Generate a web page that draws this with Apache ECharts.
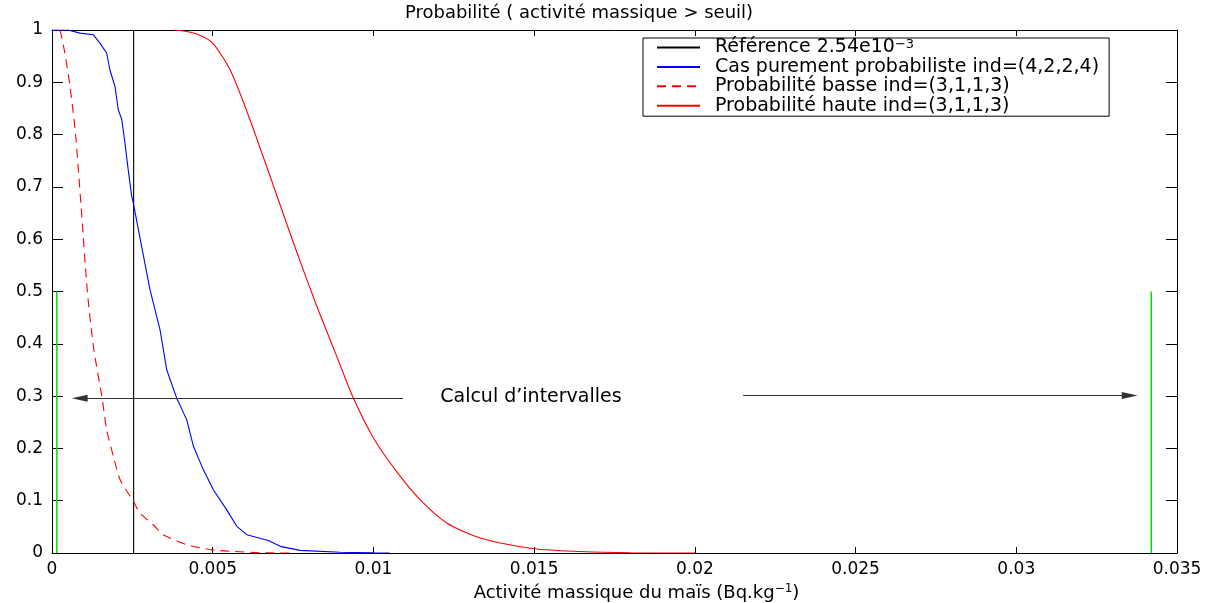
<!DOCTYPE html>
<html>
<head>
<meta charset="utf-8">
<script src="https://cdn.jsdelivr.net/npm/echarts@6/dist/echarts.min.js"></script>
<style>
html,body{margin:0;padding:0;background:#fff;}
#chart{width:1219px;height:603px;}
</style>
</head>
<body>
<div id="chart"></div>
<script>
// ---- data ----
const xTickLabels = ['0','0.005','0.01','0.015','0.02','0.025','0.03','0.035'];
const yTickLabels = ['0','0.1','0.2','0.3','0.4','0.5','0.6','0.7','0.8','0.9','1'];

const referenceX = 0.00254;
const referenceName = 'Référence 2.54e10−3';

const blueName = 'Cas purement probabiliste ind=(4,2,2,4)';
const blueX = [0, 0.0005, 0.00087, 0.00128, 0.00149, 0.0017, 0.0018, 0.00196, 0.00206, 0.00217, 0.00227, 0.00237, 0.00248, 0.00253, 0.00279, 0.00305, 0.00336, 0.00357, 0.00388, 0.00419, 0.0044, 0.00471, 0.00502, 0.00543, 0.00575, 0.00606, 0.00673, 0.0071, 0.00772, 0.00896, 0.0100, 0.0105];
const blueY = [1, 1, 0.994, 0.991, 0.975, 0.956, 0.924, 0.892, 0.848, 0.829, 0.784, 0.733, 0.682, 0.669, 0.586, 0.503, 0.427, 0.350, 0.296, 0.255, 0.204, 0.159, 0.121, 0.083, 0.051, 0.035, 0.024, 0.0127, 0.005, 0.0015, 0.0003, 0];

const lowName = 'Probabilité basse ind=(3,1,1,3)';
const lowX = [0.00025, 0.0004, 0.00056, 0.00072, 0.00082, 0.00092, 0.0011, 0.0013, 0.00155, 0.0017, 0.00191, 0.00212, 0.00253, 0.00274, 0.00315, 0.00346, 0.00419, 0.005, 0.00564, 0.0065, 0.0075];
const lowY = [1.0, 0.956, 0.892, 0.809, 0.733, 0.65, 0.5, 0.39, 0.30, 0.236, 0.185, 0.140, 0.099, 0.0765, 0.054, 0.035, 0.016, 0.006, 0.003, 0.0005, 0];

const highName = 'Probabilité haute ind=(3,1,1,3)';
const highX = [0.0038, 0.0042, 0.0046, 0.005, 0.00554, 0.00616, 0.00704, 0.0076, 0.0082, 0.0088, 0.00938, 0.01, 0.01073, 0.01145, 0.01228, 0.01332, 0.015, 0.01643, 0.018, 0.02];
const highY = [1.0, 0.997, 0.99, 0.975, 0.924, 0.8285, 0.6755, 0.578, 0.478, 0.385, 0.2957, 0.22, 0.155, 0.102, 0.0574, 0.0287, 0.0082, 0.003, 0.0005, 0];

const greenX = [0.00015, 0.0342];
const greenTop = 0.5;

const arrowLeft = {from: [0.01092, 0.296], to: [0.00086, 0.296]};
const arrowRight = {from: [0.0215, 0.301], to: [0.03353, 0.301]};
const annotation = {x: 0.0149, y: 0.299, text: 'Calcul d’intervalles'};

const titleText = 'Probabilité ( activité massique > seuil)';

// ---- chart ----
const FONT = 'DejaVu Sans';
const zip = (xs, ys) => xs.map((x, i) => [x, ys[i]]);

const chart = echarts.init(document.getElementById('chart'), null, {renderer: 'canvas'});

const axisCommon = {
  type: 'value',
  splitLine: {show: false},
  axisLine: {show: true, onZero: false, lineStyle: {color: '#000', width: 1}},
};

const lineSeries = (name, data, color, extra) => Object.assign({
  name, type: 'line', data, xAxisIndex: 0, yAxisIndex: 0,
  showSymbol: false, symbol: 'none', color,
  lineStyle: {color, width: 1.1}
}, extra || {});

const option = {
  animation: false,
  backgroundColor: '#fff',
  grid: {left: 52, right: 42, top: 30, bottom: 50, containLabel: false, outerBoundsMode: 'none'},
  graphic: [{
    type: 'text', x: 579, y: 4,
    style: {text: titleText, font: '18px "DejaVu Sans"', fill: '#000', textAlign: 'center'}
  }],
  legend: {
    show: true,
    data: [referenceName, blueName, lowName, highName],
    orient: 'vertical',
    left: 643, top: 38,
    padding: [0, 10, 1, 13],
    borderColor: '#000', borderWidth: 1,
    backgroundColor: '#fff',
    itemWidth: 43, itemHeight: 12, itemGap: 0.4,
    selectedMode: false,
    itemStyle: {opacity: 0},
    formatter: name => name === referenceName ? 'Référence 2.54e10{sup|−3}' : name,
    textStyle: {
      fontFamily: FONT, fontSize: 19, color: '#000', lineHeight: 19, padding: [0, 0, 0, 10],
      rich: {sup: {fontFamily: FONT, fontSize: 13, color: '#000', verticalAlign: 'top', lineHeight: 13, padding: [0,0,6,0]}}
    }
  },
  xAxis: [
    Object.assign({}, axisCommon, {
      position: 'bottom', min: 0, max: 0.035, interval: 0.005,
      axisTick: {show: true, inside: true, length: 6, lineStyle: {color: '#000'}},
      axisLabel: {show: true, margin: 8, color: '#000', fontFamily: FONT, fontSize: 17, formatter: (v, i) => xTickLabels[i]},
      name: 'Activité massique du maïs (Bq.kg{sup|−1})',
      nameLocation: 'middle', nameGap: 29,
      nameTextStyle: {
        fontFamily: FONT, fontSize: 18, color: '#000', padding: [0, 0, 0, 44], lineHeight: 20,
        rich: {sup: {fontFamily: FONT, fontSize: 12, color: '#000', verticalAlign: 'top', lineHeight: 12, padding: [0,0,6,0]}}
      }
    }),
    Object.assign({}, axisCommon, {
      position: 'top', min: 0, max: 0.035, interval: 0.005,
      axisTick: {show: true, inside: true, length: 6, lineStyle: {color: '#000'}},
      axisLabel: {show: false}
    })
  ],
  yAxis: [
    Object.assign({}, axisCommon, {
      position: 'left', min: 0, max: 1, interval: 0.1,
      axisTick: {show: true, inside: true, length: 11, lineStyle: {color: '#000'}},
      axisLabel: {show: true, margin: 9, color: '#000', fontFamily: FONT, fontSize: 17, formatter: (v, i) => yTickLabels[i]}
    }),
    Object.assign({}, axisCommon, {
      position: 'right', min: 0, max: 1, interval: 0.1,
      axisTick: {show: true, inside: true, length: 11, lineStyle: {color: '#000'}},
      axisLabel: {show: false}
    })
  ],
  series: [
    lineSeries(referenceName, [[referenceX, 0], [referenceX, 1]], '#000000', {z: 3}),
    lineSeries(blueName, zip(blueX, blueY), '#0000ff', {z: 4}),
    lineSeries(lowName, zip(lowX, lowY), '#ff0000', {z: 4, smooth: 0.25,
      lineStyle: {color: '#ff0000', width: 1.1, type: [9, 6]}}),
    lineSeries(highName, zip(highX, highY), '#ff0000', {z: 4, smooth: 0.25}),
    lineSeries('green1', [[greenX[0], 0], [greenX[0], greenTop]], '#00e000', {z: 2, lineStyle: {color: '#00e000', width: 1.5}}),
    lineSeries('green2', [[greenX[1], 0], [greenX[1], greenTop]], '#00e000', {z: 2, lineStyle: {color: '#00e000', width: 1.5}}),
    {
      name: 'arrows', type: 'line', data: [], z: 5,
      markLine: {
        silent: true, animation: false,
        symbol: ['none', 'triangle'],
        label: {show: false},
        lineStyle: {color: '#333', width: 1, type: 'solid'},
        itemStyle: {color: '#000'},
        data: [
          [{coord: arrowLeft.from, symbol: 'none'}, {coord: arrowLeft.to, symbol: 'triangle', symbolSize: [7, 16]}],
          [{coord: arrowRight.from, symbol: 'none'}, {coord: arrowRight.to, symbol: 'triangle', symbolSize: [7, 16]}]
        ]
      }
    },
    {
      name: 'annotation', type: 'scatter', data: [[annotation.x, annotation.y]],
      symbolSize: 0, silent: true, z: 6,
      itemStyle: {opacity: 1},
      label: {show: true, position: 'inside', formatter: annotation.text, color: '#000', opacity: 1, fontFamily: FONT, fontSize: 19}
    }
  ]
};

chart.setOption(option);
</script>
</body>
</html>
